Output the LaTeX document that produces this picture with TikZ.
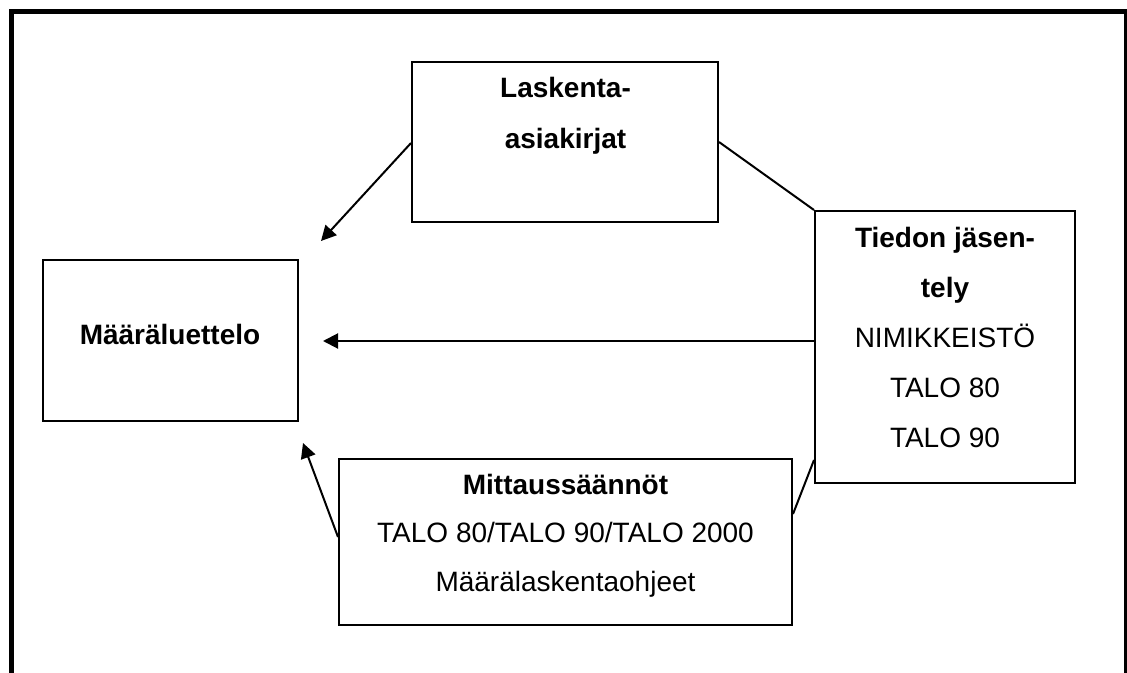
\documentclass[tikz,border=0pt]{standalone}
\usepackage{fontspec}
\setmainfont{Liberation Sans}
\usetikzlibrary{arrows.meta,calc}
\begin{document}
\begin{tikzpicture}[x=1pt,y=-1pt,
  box/.style={draw=black,line width=2pt,rectangle,inner sep=0pt},
  txt/.style={anchor=base,inner sep=0pt,font=\fontsize{28}{34}\selectfont},
  bold/.style={txt,font=\fontsize{28}{34}\selectfont\bfseries},
  link/.style={line width=2pt},
  arr/.style={line width=2pt,-{Triangle[length=15pt,width=15pt]}}]
\useasboundingbox (0,0) rectangle (1127,672);
\clip (0,0) rectangle (1127,672);
% outer frame, open at the bottom
\draw[line width=5pt] (11.5,700) -- (11.5,11.5) -- (1126,11.5) -- (1126,700);
% boxes
\node[box,minimum width=255pt,minimum height=161pt] (maar) at (170.5,340.5) {};
\node[box,minimum width=306pt,minimum height=160pt] (lask) at (565,142) {};
\node[box,minimum width=260pt,minimum height=272pt] (tied) at (945,347) {};
\node[box,minimum width=453pt,minimum height=166pt] (mitt) at (565.5,542) {};
% texts
\node[bold] (maarT) at (170,344) {Määräluettelo};
\node[bold] (laskA) at (565.5,97) {Laskenta-};
\node[bold] (laskB) at (565.5,148) {asiakirjat};
\node[bold] (tiedA) at (945,247) {Tiedon jäsen-};
\node[bold] (tiedB) at (945,297) {tely};
\node[txt] (tiedC) at (945,347) {NIMIKKEISTÖ};
\node[txt] (tiedD) at (945,397) {TALO 80};
\node[txt] (tiedE) at (945,447) {TALO 90};
\node[bold] (mittA) at (565.5,494) {Mittaussäännöt};
\node[txt] (mittB) at (565.5,542) {TALO 80/TALO 90/TALO 2000};
\node[txt] (mittC) at (565.5,591) {Määrälaskentaohjeet};
% arrow tips near the list box
\coordinate (tipA) at (321,241);
\coordinate (tipB) at (323,341);
\coordinate (tipC) at (303,443);
% connectors
\draw[arr] ($(lask.north west)+(0,82)$) -- (tipA);
\draw[arr] (tied.west |- tipB) -- (tipB);
\draw[arr] ($(mitt.north west)+(0,79)$) -- (tipC);
\draw[link] ($(lask.north east)+(0,81)$) -- (tied.north west);
\draw[link] ($(tied.north west)+(0,250)$) -- ($(mitt.north east)+(0,56)$);
\end{tikzpicture}
\end{document}
